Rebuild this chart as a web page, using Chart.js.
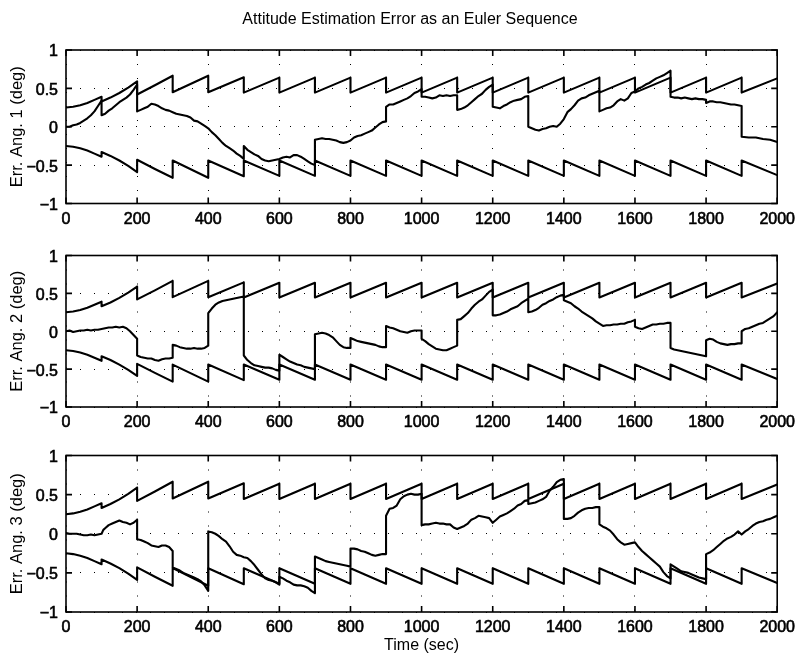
<!DOCTYPE html>
<html>
<head>
<meta charset="utf-8">
<title>Attitude Estimation Error as an Euler Sequence</title>
<script src="https://cdn.jsdelivr.net/npm/chart.js@4.4.1/dist/chart.umd.min.js"></script>
<style>
  html, body { margin: 0; padding: 0; background: #fff; }
  #fig { position: relative; width: 801px; height: 658px; overflow: hidden; }
  #fig canvas { position: absolute; left: 0; }
</style>
</head>
<body>
<div id="fig">
  <canvas id="panel1" width="801" height="232" style="top:0px"></canvas>
  <canvas id="panel2" width="801" height="200" style="top:232px"></canvas>
  <canvas id="panel3" width="801" height="226" style="top:432px"></canvas>
</div>
<script>
// ---- figure text ----
const figureTitle = 'Attitude Estimation Error as an Euler Sequence';
const axisTitles = ['Err. Ang. 1 (deg)', 'Err. Ang. 2 (deg)', 'Err. Ang. 3 (deg)'];
const timeTitle = 'Time (sec)';

// ---- tick labels ----
const xTickValues = [0, 200, 400, 600, 800, 1000, 1200, 1400, 1600, 1800, 2000];
const xTickLabels = ['0', '200', '400', '600', '800', '1000', '1200', '1400', '1600', '1800', '2000'];
const yTickValues = [-1, -0.5, 0, 0.5, 1];
const yTickLabels = ['\u22121', '\u22120.5', '0', '0.5', '1'];

// ---- 3-sigma covariance bounds (deg), reset at every 100 s update ----
const boundTime = [0, 20, 40, 60, 80, 100, 100, 125, 150, 175, 200, 200, 250, 300, 300, 400, 400, 500, 500, 600,
  600, 700, 700, 800, 800, 900, 900, 1000, 1000, 1100, 1100, 1200, 1200, 1300, 1300, 1400, 1400, 1500, 1500, 1600,
  1600, 1700, 1700, 1800, 1800, 1900, 1900, 2000];
const boundUpper = [0.25, 0.26, 0.28, 0.31, 0.35, 0.39, 0.33, 0.38, 0.44, 0.51, 0.59, 0.42, 0.54, 0.665, 0.45, 0.665, 0.45, 0.645, 0.445, 0.64,
  0.445, 0.64, 0.445, 0.64, 0.445, 0.64, 0.445, 0.64, 0.445, 0.64, 0.445, 0.64, 0.445, 0.64, 0.445, 0.64, 0.445, 0.64, 0.445, 0.64,
  0.445, 0.64, 0.445, 0.64, 0.445, 0.64, 0.445, 0.63];
const boundLower = [-0.25, -0.26, -0.28, -0.31, -0.35, -0.39, -0.33, -0.38, -0.44, -0.51, -0.59, -0.43, -0.55, -0.665, -0.44, -0.665, -0.44, -0.645, -0.44, -0.64,
  -0.44, -0.64, -0.44, -0.64, -0.44, -0.64, -0.44, -0.64, -0.44, -0.64, -0.44, -0.64, -0.44, -0.64, -0.44, -0.64, -0.44, -0.64, -0.44, -0.64,
  -0.44, -0.64, -0.44, -0.64, -0.44, -0.64, -0.44, -0.63];

// ---- estimation error, [time (s), error (deg)] ----
const errAngle1 = [
  [0,0.0],[10,0.0],[20,0.02],[30,0.03],[40,0.05],[50,0.08],[60,0.11],[70,0.15],[80,0.2],[90,0.27],[100,0.34],
  [100,0.15],[110,0.17],[120,0.21],[130,0.24],[140,0.28],[150,0.32],[160,0.35],[170,0.38],[180,0.42],[190,0.48],[200,0.55],
  [200,0.2],[210,0.22],[220,0.24],[230,0.26],[240,0.3],[250,0.29],[260,0.27],[270,0.24],[280,0.22],[290,0.21],[300,0.19],
  [310,0.17],[320,0.16],[330,0.15],[340,0.14],[350,0.12],[360,0.08],[370,0.07],[380,0.04],[390,0.01],[400,-0.02],
  [410,-0.07],[420,-0.11],[430,-0.16],[440,-0.21],[450,-0.25],[460,-0.28],[470,-0.31],[480,-0.35],[490,-0.38],[500,-0.42],
  [500,-0.25],[510,-0.3],[520,-0.33],[530,-0.36],[540,-0.38],[550,-0.42],[560,-0.44],[570,-0.45],[580,-0.44],[590,-0.43],[600,-0.42],
  [610,-0.4],[620,-0.39],[630,-0.4],[640,-0.37],[650,-0.37],[660,-0.39],[670,-0.42],[680,-0.45],[690,-0.48],[700,-0.5],
  [700,-0.17],[710,-0.16],[720,-0.15],[730,-0.16],[740,-0.16],[750,-0.17],[760,-0.18],[770,-0.2],[780,-0.21],[790,-0.2],[800,-0.18],
  [810,-0.14],[820,-0.12],[830,-0.11],[840,-0.09],[850,-0.07],[860,-0.05],[870,-0.01],[880,0.03],[890,0.06],[900,0.07],
  [900,0.26],[910,0.29],[920,0.29],[930,0.31],[940,0.33],[950,0.35],[960,0.37],[970,0.4],[980,0.44],[990,0.46],[1000,0.49],
  [1000,0.39],[1010,0.39],[1020,0.38],[1030,0.37],[1040,0.38],[1050,0.41],[1060,0.4],[1070,0.41],[1080,0.4],[1090,0.41],[1100,0.41],
  [1100,0.22],[1110,0.23],[1120,0.25],[1130,0.28],[1140,0.32],[1150,0.36],[1160,0.4],[1170,0.43],[1180,0.48],[1190,0.52],[1200,0.55],
  [1200,0.26],[1210,0.25],[1220,0.24],[1230,0.27],[1240,0.29],[1250,0.32],[1260,0.34],[1270,0.35],[1280,0.36],[1290,0.39],[1300,0.4],
  [1300,0.0],[1310,-0.02],[1320,-0.04],[1330,-0.05],[1340,-0.03],[1350,-0.02],[1360,0.0],[1370,0.01],[1380,0.0],[1390,0.04],[1400,0.1],
  [1410,0.19],[1420,0.23],[1430,0.28],[1440,0.34],[1450,0.37],[1460,0.38],[1470,0.41],[1480,0.43],[1490,0.45],[1500,0.47],
  [1500,0.2],[1510,0.22],[1520,0.24],[1530,0.25],[1540,0.28],[1550,0.33],[1560,0.36],[1570,0.34],[1580,0.37],[1590,0.44],[1600,0.46],
  [1610,0.5],[1620,0.52],[1630,0.55],[1640,0.57],[1650,0.6],[1660,0.63],[1670,0.65],[1680,0.67],[1690,0.7],[1700,0.73],
  [1700,0.39],[1710,0.38],[1720,0.38],[1730,0.37],[1740,0.38],[1750,0.37],[1760,0.36],[1770,0.37],[1780,0.36],[1790,0.36],[1800,0.35],
  [1800,0.31],[1810,0.33],[1820,0.33],[1830,0.32],[1840,0.32],[1850,0.31],[1860,0.3],[1870,0.29],[1880,0.29],[1890,0.28],[1900,0.27],
  [1900,-0.13],[1920,-0.14],[1940,-0.14],[1960,-0.16],[1980,-0.17],[2000,-0.2]
];
const errAngle2 = [
  [0,0.0],[10,0.01],[20,-0.01],[30,0.0],[40,0.01],[50,0.01],[60,0.02],[70,0.01],[80,0.02],[90,0.02],[100,0.03],
  [110,0.04],[120,0.05],[130,0.05],[140,0.06],[150,0.05],[160,0.06],[170,0.04],[180,0.0],[190,-0.05],[200,-0.1],
  [200,-0.32],[210,-0.34],[220,-0.35],[230,-0.36],[240,-0.36],[250,-0.38],[260,-0.39],[270,-0.37],[280,-0.36],[290,-0.36],[300,-0.35],
  [300,-0.18],[310,-0.19],[320,-0.21],[330,-0.22],[340,-0.23],[350,-0.23],[360,-0.22],[370,-0.23],[380,-0.23],[390,-0.22],[400,-0.19],
  [400,0.24],[410,0.3],[420,0.35],[430,0.38],[440,0.4],[450,0.41],[460,0.42],[470,0.43],[480,0.44],[490,0.45],[500,0.46],
  [500,-0.32],[510,-0.38],[520,-0.42],[530,-0.45],[540,-0.46],[550,-0.47],[560,-0.48],[570,-0.48],[580,-0.49],[590,-0.51],[600,-0.52],
  [600,-0.31],[610,-0.34],[620,-0.37],[630,-0.4],[640,-0.42],[650,-0.44],[660,-0.45],[670,-0.47],[680,-0.48],[690,-0.49],[700,-0.5],
  [700,-0.04],[710,-0.03],[720,-0.02],[730,-0.03],[740,-0.05],[750,-0.08],[760,-0.13],[770,-0.18],[780,-0.21],[790,-0.22],[800,-0.22],
  [800,-0.09],[810,-0.11],[820,-0.13],[830,-0.14],[840,-0.15],[850,-0.16],[860,-0.17],[870,-0.18],[880,-0.2],[890,-0.21],[900,-0.21],
  [900,0.07],[910,0.05],[920,0.04],[930,0.02],[940,0.0],[950,-0.01],[960,-0.02],[970,0.0],[980,0.01],[990,0.01],[1000,0.01],
  [1000,-0.1],[1010,-0.13],[1020,-0.17],[1030,-0.2],[1040,-0.23],[1050,-0.24],[1060,-0.25],[1070,-0.25],[1080,-0.23],[1090,-0.21],[1100,-0.19],
  [1100,0.15],[1110,0.16],[1120,0.2],[1130,0.24],[1140,0.3],[1150,0.35],[1160,0.39],[1170,0.42],[1180,0.47],[1190,0.52],[1200,0.55],
  [1200,0.21],[1210,0.21],[1220,0.22],[1230,0.24],[1240,0.26],[1250,0.29],[1260,0.31],[1270,0.33],[1280,0.37],[1290,0.4],[1300,0.43],
  [1300,0.25],[1310,0.26],[1320,0.28],[1330,0.31],[1340,0.35],[1350,0.37],[1360,0.4],[1370,0.42],[1380,0.45],[1390,0.47],[1400,0.48],
  [1400,0.41],[1410,0.39],[1420,0.37],[1430,0.33],[1440,0.3],[1450,0.26],[1460,0.23],[1470,0.2],[1480,0.17],[1490,0.13],[1500,0.1],
  [1510,0.07],[1520,0.08],[1530,0.08],[1540,0.09],[1550,0.09],[1560,0.1],[1570,0.1],[1580,0.12],[1590,0.13],[1600,0.15],
  [1600,0.06],[1610,0.04],[1620,0.03],[1630,0.05],[1640,0.07],[1650,0.09],[1660,0.09],[1670,0.1],[1680,0.1],[1690,0.11],[1700,0.11],
  [1700,-0.22],[1710,-0.24],[1720,-0.25],[1730,-0.26],[1740,-0.27],[1750,-0.28],[1760,-0.29],[1770,-0.3],[1780,-0.31],[1790,-0.32],[1800,-0.33],
  [1800,-0.12],[1810,-0.1],[1820,-0.11],[1830,-0.14],[1840,-0.16],[1850,-0.17],[1860,-0.18],[1870,-0.17],[1880,-0.17],[1890,-0.16],[1900,-0.16],
  [1900,0.0],[1910,0.03],[1920,0.04],[1930,0.06],[1940,0.08],[1950,0.1],[1960,0.11],[1970,0.14],[1980,0.17],[1990,0.2],[2000,0.25]
];
const errAngle3 = [
  [0,0.01],[10,0.0],[20,0.0],[30,0.0],[40,-0.01],[50,-0.02],[60,-0.02],[70,-0.01],[80,-0.02],[90,-0.01],[100,0.0],
  [105,0.05],[110,0.07],[120,0.11],[130,0.13],[140,0.15],[150,0.17],[160,0.15],[170,0.14],[180,0.12],[190,0.14],[200,0.18],
  [200,-0.07],[210,-0.08],[220,-0.1],[230,-0.12],[240,-0.15],[250,-0.16],[260,-0.17],[270,-0.15],[280,-0.15],[290,-0.17],[300,-0.22],
  [300,-0.43],[310,-0.45],[320,-0.47],[330,-0.5],[340,-0.52],[350,-0.54],[360,-0.56],[370,-0.58],[380,-0.61],[390,-0.66],[400,-0.73],
  [400,0.03],[410,0.02],[420,0.0],[430,-0.03],[440,-0.07],[450,-0.1],[460,-0.16],[470,-0.23],[480,-0.27],[490,-0.28],[500,-0.3],
  [510,-0.31],[520,-0.35],[530,-0.4],[540,-0.46],[550,-0.52],[560,-0.57],[570,-0.59],[580,-0.6],[590,-0.62],[600,-0.65],
  [600,-0.55],[610,-0.57],[620,-0.6],[630,-0.62],[640,-0.65],[650,-0.66],[660,-0.66],[670,-0.67],[680,-0.69],[690,-0.73],[700,-0.76],
  [700,-0.29],[710,-0.31],[720,-0.33],[730,-0.35],[740,-0.36],[750,-0.37],[760,-0.38],[770,-0.39],[780,-0.4],[790,-0.41],[800,-0.42],
  [800,-0.19],[810,-0.19],[820,-0.2],[830,-0.22],[840,-0.23],[850,-0.25],[860,-0.27],[870,-0.28],[880,-0.27],[890,-0.26],[900,-0.26],
  [900,0.23],[910,0.32],[920,0.33],[930,0.36],[940,0.44],[950,0.48],[960,0.5],[970,0.51],[980,0.5],[990,0.5],[1000,0.51],
  [1000,0.11],[1010,0.12],[1020,0.12],[1030,0.13],[1040,0.14],[1050,0.13],[1060,0.13],[1070,0.12],[1080,0.12],[1090,0.08],[1100,0.06],
  [1110,0.08],[1120,0.1],[1130,0.13],[1140,0.18],[1150,0.2],[1160,0.23],[1170,0.22],[1180,0.21],[1190,0.2],[1200,0.14],
  [1210,0.18],[1220,0.22],[1230,0.24],[1240,0.26],[1250,0.29],[1260,0.32],[1270,0.36],[1280,0.38],[1290,0.42],[1300,0.43],
  [1300,0.38],[1310,0.39],[1320,0.4],[1330,0.42],[1340,0.44],[1350,0.47],[1360,0.55],[1370,0.6],[1380,0.66],[1390,0.69],[1400,0.7],
  [1400,0.19],[1410,0.19],[1420,0.2],[1430,0.23],[1440,0.27],[1450,0.3],[1460,0.32],[1470,0.33],[1480,0.33],[1490,0.34],[1500,0.34],
  [1500,0.12],[1510,0.09],[1520,0.07],[1530,0.04],[1540,-0.01],[1550,-0.07],[1560,-0.11],[1570,-0.14],[1580,-0.13],[1590,-0.12],[1600,-0.11],
  [1610,-0.17],[1620,-0.22],[1630,-0.26],[1640,-0.3],[1650,-0.34],[1660,-0.38],[1670,-0.42],[1680,-0.49],[1690,-0.54],[1700,-0.57],
  [1700,-0.39],[1710,-0.42],[1720,-0.45],[1730,-0.48],[1740,-0.49],[1750,-0.5],[1760,-0.52],[1770,-0.54],[1780,-0.56],[1790,-0.57],[1800,-0.58],
  [1800,-0.26],[1810,-0.24],[1820,-0.21],[1830,-0.17],[1840,-0.13],[1850,-0.09],[1860,-0.06],[1870,-0.04],[1880,-0.01],[1890,0.03],[1900,-0.01],
  [1910,0.03],[1920,0.06],[1930,0.1],[1940,0.13],[1950,0.15],[1960,0.16],[1970,0.18],[1980,0.19],[1990,0.21],[2000,0.23]
];

// ---- drawing ----
const FONT = "'Liberation Sans', Arial, Helvetica, sans-serif";
Chart.defaults.font.family = FONT;
Chart.defaults.color = '#000';

const toPoints = (pairs) => pairs.map(([t, v]) => ({ x: t, y: v }));
const boundPoints = (vals) => boundTime.map((t, i) => ({ x: t, y: vals[i] }));

// boxed axes with inward tick marks on all four sides
const boxTicks = {
  id: 'boxTicks',
  afterDatasetsDraw(chart) {
    const { ctx, chartArea: a, scales: { x, y } } = chart;
    ctx.save();
    ctx.strokeStyle = '#000';
    ctx.lineWidth = 1.6;
    ctx.strokeRect(a.left, a.top, a.right - a.left, a.bottom - a.top);
    ctx.beginPath();
    x.ticks.forEach(t => {
      const px = x.getPixelForValue(t.value);
      ctx.moveTo(px, a.bottom); ctx.lineTo(px, a.bottom - 6);
      ctx.moveTo(px, a.top); ctx.lineTo(px, a.top + 6);
    });
    y.ticks.forEach(t => {
      const py = y.getPixelForValue(t.value);
      ctx.moveTo(a.left, py); ctx.lineTo(a.left + 6, py);
      ctx.moveTo(a.right, py); ctx.lineTo(a.right - 6, py);
    });
    ctx.stroke();
    ctx.restore();
  }
};

// figure-wide title above the first panel
const figTitle = {
  id: 'figTitle',
  afterDraw(chart) {
    const ctx = chart.ctx;
    ctx.save();
    ctx.fillStyle = '#000';
    ctx.font = '16px ' + FONT;
    ctx.textAlign = 'center';
    ctx.textBaseline = 'alphabetic';
    ctx.fillText(figureTitle, 410, 24);
    ctx.restore();
  }
};

function makePanel(id, errData, yTitle, layout, withTitle, withTime) {
  const lineStyle = { borderColor: '#000', borderWidth: 2.1, pointRadius: 0, tension: 0, fill: false,
    borderJoinStyle: 'round', borderCapStyle: 'round' };
  const tickFont = { size: 16 };
  return new Chart(document.getElementById(id), {
    type: 'line',
    data: {
      datasets: [
        Object.assign({ label: 'upper bound', data: boundPoints(boundUpper) }, lineStyle),
        Object.assign({ label: 'lower bound', data: boundPoints(boundLower) }, lineStyle),
        Object.assign({ label: yTitle, data: toPoints(errData) }, lineStyle)
      ]
    },
    options: {
      responsive: false,
      animation: false,
      devicePixelRatio: 1,
      events: [],
      layout: { padding: { left: 0, right: 22, top: layout.top, bottom: 0 } },
      plugins: { legend: { display: false }, tooltip: { enabled: false } },
      scales: {
        x: {
          type: 'linear', min: 0, max: 2000,
          afterBuildTicks: (s) => { s.ticks = xTickValues.map(v => ({ value: v })); },
          afterFit: (s) => { s.height = layout.xh; },
          ticks: { font: tickFont, color: '#000', padding: 6, maxRotation: 0, autoSkip: false,
            textStrokeColor: '#000', textStrokeWidth: 0.6,
            callback: (v) => xTickLabels[xTickValues.indexOf(v)] },
          grid: { color: '#000', lineWidth: 1, drawTicks: false },
          border: { display: false, dash: [1, 13] },
          title: { display: withTime, text: timeTitle, font: { size: 16 }, color: '#000', padding: { top: 0, bottom: 3 } }
        },
        y: {
          type: 'linear', min: -1, max: 1,
          afterBuildTicks: (s) => { s.ticks = yTickValues.map(v => ({ value: v })); },
          afterFit: (s) => { s.width = 66; },
          ticks: { font: tickFont, color: '#000', padding: 8, labelOffset: 2,
            textStrokeColor: '#000', textStrokeWidth: 0.6,
            callback: (v) => yTickLabels[yTickValues.indexOf(v)] },
          grid: { color: '#000', lineWidth: 1, drawTicks: false },
          border: { display: false, dash: [1, 13] },
          title: { display: true, text: yTitle, font: { size: 16.5 }, color: '#000', padding: { top: 8, bottom: 0 } }
        }
      }
    },
    plugins: withTitle ? [boxTicks, figTitle] : [boxTicks]
  });
}

makePanel('panel1', errAngle1, axisTitles[0], { top: 50, xh: 28.5 }, true, false);
makePanel('panel2', errAngle2, axisTitles[1], { top: 23.5, xh: 25 }, false, false);
makePanel('panel3', errAngle3, axisTitles[2], { top: 23.5, xh: 46 }, false, true);
</script>
</body>
</html>
